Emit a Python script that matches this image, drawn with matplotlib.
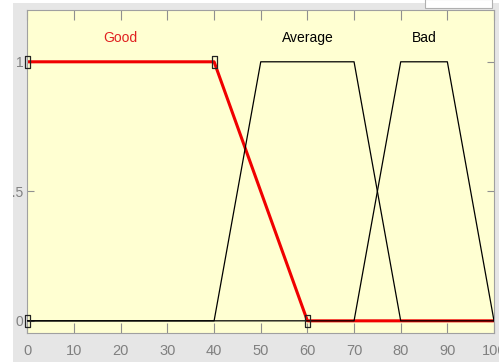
import matplotlib
matplotlib.use('Agg')
import matplotlib.pyplot as plt
from matplotlib.patches import Rectangle

# membership functions (trapezoids)
good_x = [0, 40, 60, 100]
good_y = [1, 1, 0, 0]
avg_x = [0, 40, 50, 70, 80, 100]
avg_y = [0, 0, 1, 1, 0, 0]
bad_x = [0, 70, 80, 90, 100]
bad_y = [0, 0, 1, 1, 0]

# handles on the selected MF
handle_x = [0, 0, 40, 60]
handle_y = [0, 1, 1, 0]

labels = ["Good", "Average", "Bad"]
label_x = [20, 60, 85]
label_colors = ["#e02020", "black", "black"]

xticks = list(range(0, 101, 10))
yticks = [0, 0.5, 1]

plt.rcParams['font.family'] = ['Liberation Sans', 'DejaVu Sans']

fig = plt.figure(figsize=(4.99, 3.62), dpi=100)
fig.patch.set_facecolor('#e6e6e6')
ax = fig.add_axes([0.0551, 0.0801, 0.9349, 0.8923])
ax.set_facecolor('#ffffd2')

ax.plot(good_x, good_y, color='#f00000', lw=2.2, solid_capstyle='butt', zorder=2)
ax.plot(avg_x, avg_y, color='black', lw=0.9, zorder=3)
ax.plot(bad_x, bad_y, color='black', lw=0.9, zorder=3)

rect = [(-0.2, -0.5), (0.2, -0.5), (0.2, 0.5), (-0.2, 0.5), (-0.2, -0.5)]
ax.plot(handle_x, handle_y, ls='none', marker=rect, markersize=9,
        markerfacecolor='none', markeredgecolor='#222222', markeredgewidth=0.9,
        zorder=4, clip_on=False)

for lab, lx, lc in zip(labels, label_x, label_colors):
    ax.text(lx, 1.09, lab, color=lc, fontsize=10, ha='center', va='center')

ax.set_xlim(0, 100)
ax.set_ylim(-0.047, 1.2)
ax.set_xticks(xticks)
ax.set_yticks(yticks)
ax.set_yticklabels(['0', '0.5', '1'])
ax.tick_params(axis='x', direction='in', length=7, color='#909090',
               labelcolor='#808080', labelsize=10.5, pad=8, top=True)
ax.tick_params(axis='y', direction='in', length=5, color='#909090',
               labelcolor='#808080', labelsize=10, pad=3, right=True)
for s in ax.spines.values():
    s.set_color('#a0a0a0')

# white strips of the screenshot and the text box at top right
fig.patches.append(Rectangle((0, 0), 13 / 499, 1, transform=fig.transFigure,
                             facecolor='white', edgecolor='none', zorder=10))
fig.patches.append(Rectangle((0, 1 - 2.5 / 362), 1, 2.5 / 362, transform=fig.transFigure,
                             facecolor='white', edgecolor='none', zorder=10))
fig.patches.append(Rectangle((425 / 499, 1 - 7.5 / 362), 67 / 499, 8 / 362,
                             transform=fig.transFigure, facecolor='white',
                             edgecolor='#b0b0b0', lw=0.8, zorder=10))

fig.savefig('out.png', dpi=100, facecolor=fig.get_facecolor())
